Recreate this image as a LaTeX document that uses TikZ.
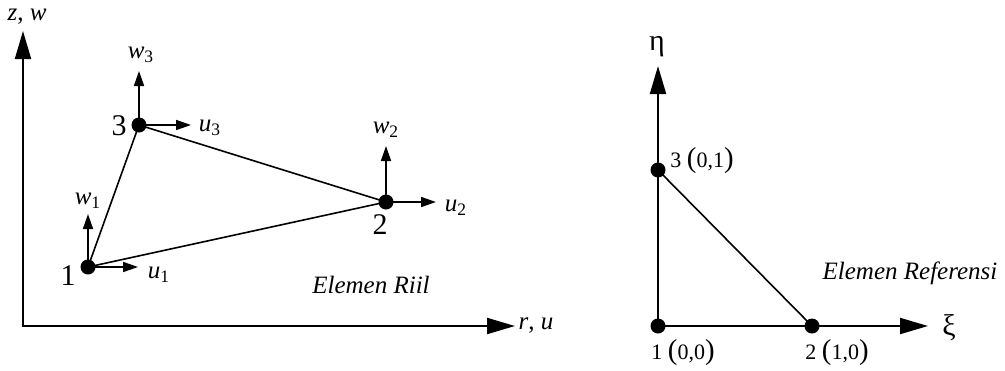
\documentclass[tikz,border=0pt]{standalone}
\usepackage{fontspec}
\setmainfont{Liberation Serif}
\usepackage{tikz}
\usetikzlibrary{arrows.meta,positioning}
\newcommand{\vsub}[2]{\textit{#1}\textsubscript{#2}}
\newcommand{\kurung}[1]{{\Large(}#1{\Large)}}

\begin{document}
\begin{tikzpicture}[x=0.5pt, y=-0.5pt,
  titik/.style={circle, fill=black, inner sep=0pt, minimum size=7.5pt},
  sumbu/.style={line width=1pt, -{Triangle[length=14pt, width=8pt]}},
  panah/.style={line width=0.8pt, -{Triangle[length=7.5pt, width=5pt]}},
  sisi/.style={line width=0.8pt},
  teks/.style={inner sep=0pt, font=\fontsize{12.5}{15}\selectfont},
  nomor/.style={inner sep=0pt, font=\fontsize{15}{18}\selectfont},
  kecil/.style={inner sep=0pt, font=\fontsize{12.5}{15}\selectfont},
  koord/.style={inner sep=0pt, font=\fontsize{11}{13}\selectfont}
]
\useasboundingbox (0,0) rectangle (1005,370);
% elemen riil
\coordinate (o) at (23,326);
\coordinate (zt) at (23,31);
\coordinate (rt) at (515,326);
\draw[sumbu, {Triangle[length=14pt, width=8pt]}-{Triangle[length=14pt, width=8pt]}]
  (zt) -- (o) -- (rt);
\node[teks] (lzw) at (27,17) {\textit{z}, \textit{w}};
\node[teks] (lru) at (536,326) {\textit{r}, \textit{u}};
\node[titik] (n1) at (88,267) {};
\node[titik] (n2) at (386,202) {};
\node[titik] (n3) at (139,125) {};
\draw[sisi] (n1.center) -- (n2.center) -- (n3.center) -- cycle;
\coordinate (u1) at (138,267);
\coordinate (w1) at (88,214);
\coordinate (u2) at (436,202);
\coordinate (w2) at (386,146);
\coordinate (u3) at (191,125);
\coordinate (w3) at (139,71);
\draw[panah] (n1.center) -- (u1);
\draw[panah] (n1.center) -- (w1);
\draw[panah] (n2.center) -- (u2);
\draw[panah] (n2.center) -- (w2);
\draw[panah] (n3.center) -- (u3);
\draw[panah] (n3.center) -- (w3);
\node[kecil] (lu1) at (159,275) {\vsub{u}{1}};
\node[kecil] (lw1) at (88,201) {\vsub{w}{1}};
\node[kecil] (lu2) at (456,208) {\vsub{u}{2}};
\node[kecil] (lw2) at (386,130) {\vsub{w}{2}};
\node[kecil] (lu3) at (210,128) {\vsub{u}{3}};
\node[kecil] (lw3) at (141,55) {\vsub{w}{3}};
\node[nomor] (l1) at (68,276) {1};
\node[nomor] (l2) at (380,225) {2};
\node[nomor] (l3) at (119,126) {3};
\node[teks] (riil) at (371,285) {\textit{Elemen Riil}};
% elemen referensi
\node[titik] (r1) at (658,326) {};
\node[titik] (r2) at (812,326) {};
\node[titik] (r3) at (658,170) {};
\coordinate (eta) at (658,66);
\coordinate (xi) at (928,326);
\draw[sumbu] (r1.center) -- (eta);
\draw[sumbu] (r1.center) -- (xi);
\draw[sisi] (r3.center) -- (r2.center);
\node[nomor] (leta) at (657,47) {η};
\node[nomor] (lxi) at (949,328) {ξ};
\node[koord, anchor=west] (lr3) at (670,161) {3 \kurung{0,1}};
\node[koord] (lr1) at (683,353) {1 \kurung{0,0}};
\node[koord] (lr2) at (837,353) {2 \kurung{1,0}};
\node[teks] (ref) at (910,273) {\textit{Elemen Referensi}};
\end{tikzpicture}
\end{document}
